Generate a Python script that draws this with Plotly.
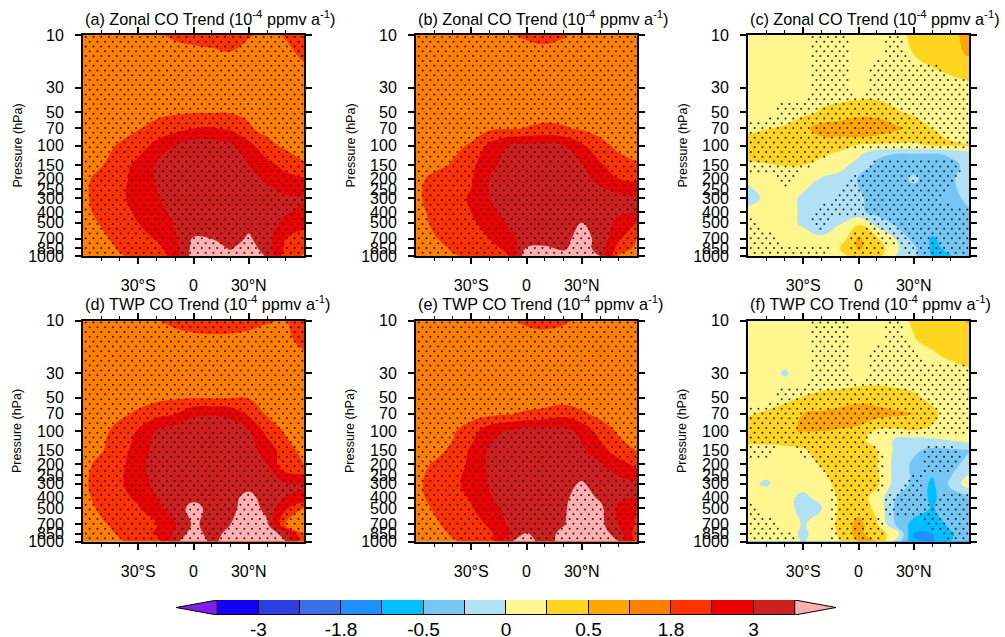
import numpy as np
import plotly.graph_objects as go

LAT = [-60,-50,-40,-30,-20,-10,0,10,20,30,40,50,60]
P = [10,15,20,30,50,70,100,150,200,300,400,500,700,850,1000]
P_R = [10,15,20,30,50,70,100,120,150,200,300,400,500,700,850,1000]
PTICKS = [10,30,50,70,100,150,200,250,300,400,500,700,850,1000]
LEVELS = [-3.6,-3,-2.4,-1.8,-1,-0.5,-0.25,0,0.25,0.5,1,1.8,2.4,3,3.6]
COLORS = ["#7F20E8","#1400F5","#2C3FE0","#3A70E8","#1E90FF","#00BFFF","#75C6F3","#B2E0F5",
          "#FFF68F","#FFD520","#FFA500","#FF7F00","#FF3300","#EE0000","#CD1F1F","#FFB0B0"]
CB_LABELS = ["-3","-1.8","-0.5","0","0.5","1.8","3"]

A = [
[1.3,1.3,1.4,1.5,1.7,1.9,2.0,2.1,2.2,1.85,1.6,1.85,2.2],
[1.3,1.3,1.3,1.4,1.5,1.5,1.55,1.6,1.7,1.5,1.45,1.6,1.9],
[1.3,1.3,1.3,1.35,1.4,1.4,1.45,1.45,1.45,1.4,1.4,1.5,1.7],
[1.3,1.3,1.3,1.3,1.3,1.3,1.3,1.3,1.3,1.3,1.3,1.35,1.4],
[1.3,1.35,1.4,1.5,1.6,1.7,1.75,1.75,1.75,1.7,1.55,1.45,1.35],
[1.4,1.45,1.55,1.75,2.0,2.2,2.4,2.45,2.3,1.85,1.6,1.5,1.4],
[1.45,1.6,1.85,2.1,2.6,3.0,3.3,3.3,3.1,2.6,1.95,1.65,1.5],
[1.5,1.75,2.1,2.6,3.05,3.3,3.4,3.4,3.3,3.0,2.6,2.2,1.85],
[1.6,2.0,2.2,2.65,3.05,3.3,3.4,3.4,3.4,3.2,2.9,2.6,2.45],
[1.6,2.1,2.3,2.6,2.95,3.25,3.4,3.4,3.4,3.4,3.3,3.1,3.05],
[1.55,2.0,2.2,2.5,2.8,3.15,3.35,3.3,3.3,3.4,3.3,3.05,2.9],
[1.5,1.85,2.1,2.4,2.65,3.05,3.35,3.3,3.1,3.4,3.2,2.9,2.6],
[1.45,1.65,1.95,2.15,2.45,2.9,3.65,3.6,3.3,3.7,3.2,2.4,2.1],
[1.4,1.55,1.85,2.0,2.2,2.8,3.8,3.85,3.55,3.9,3.3,2.3,1.85],
[1.3,1.5,1.75,1.9,2.1,2.6,3.9,3.9,3.8,3.9,3.55,2.0,1.75],
]
B = [
[1.3,1.3,1.3,1.35,1.45,1.7,1.9,2.0,1.85,1.6,1.5,1.5,1.5],
[1.3,1.3,1.3,1.3,1.35,1.4,1.45,1.5,1.45,1.4,1.4,1.4,1.4],
[1.3,1.3,1.3,1.3,1.3,1.35,1.35,1.4,1.4,1.35,1.35,1.35,1.35],
[1.3,1.3,1.3,1.3,1.3,1.3,1.3,1.3,1.3,1.3,1.3,1.3,1.3],
[1.3,1.3,1.3,1.35,1.4,1.45,1.5,1.55,1.55,1.5,1.4,1.35,1.3],
[1.4,1.4,1.45,1.55,1.65,1.72,1.82,1.9,1.85,1.7,1.55,1.45,1.4],
[1.45,1.5,1.65,1.85,2.55,3.0,3.1,3.15,3.0,2.5,1.95,1.65,1.5],
[1.5,1.6,1.85,2.25,2.85,3.2,3.4,3.4,3.3,3.05,2.5,2.0,1.85],
[1.6,1.95,2.0,2.35,3.0,3.25,3.4,3.4,3.35,3.2,2.8,2.4,2.3],
[1.6,2.1,2.25,2.45,3.0,3.25,3.4,3.4,3.4,3.4,3.35,3.2,3.1],
[1.55,1.95,2.15,2.4,2.85,3.2,3.35,3.35,3.35,3.35,3.3,3.1,3.0],
[1.5,1.9,2.1,2.3,2.65,3.05,3.3,3.35,3.4,3.6,3.3,2.85,2.35],
[1.45,1.75,1.95,2.15,2.4,2.85,3.2,3.3,3.4,3.85,3.4,2.5,1.75],
[1.4,1.6,1.85,2.0,2.2,2.55,3.65,3.7,3.5,3.95,3.3,2.2,1.6],
[1.35,1.5,1.75,1.85,2.0,2.35,4.0,3.9,3.85,4.1,3.6,1.7,1.5],
]
C = [
[.12,.12,.12,.12,.12,.12,.12,.12,.2,.28,.32,.45,.62],
[.12,.12,.12,.12,.12,.12,.12,.12,.18,.25,.35,.42,.55],
[.12,.12,.12,.12,.12,.12,.12,.12,.15,.18,.24,.3,.35],
[.12,.12,.12,.12,.12,.12,.12,.12,.12,.12,.14,.16,.2],
[.1,.12,.14,.18,.28,.33,.38,.38,.28,.2,.15,.12,.12],
[.2,.24,.28,.44,.7,.8,1.05,.9,.62,.4,.25,.2,.15],
[.35,.38,.4,.42,.38,.33,.23,.2,.2,.22,.26,.27,.26],
[.3,.32,.34,.34,.28,.2,.05,-.2,-.26,-.28,-.28,-.22,-.1],
[.22,.24,.26,.25,.18,.1,-.1,-.3,-.35,-.35,-.33,-.3,-.2],
[.05,.12,.12,.12,-.02,-.1,-.27,-.35,-.38,-.2,-.38,-.3,-.1],
[-.1,.05,.12,-.05,-.1,-.12,-.22,-.32,-.38,-.4,-.4,-.32,-.2],
[.08,.1,.12,-.05,-.12,-.12,-.2,-.33,-.4,-.4,-.4,-.35,-.28],
[.12,.12,.12,-.05,-.1,-.02,.2,-.1,-.3,-.38,-.38,-.38,-.38],
[.12,.12,.12,.12,.03,.1,.6,.28,0.0,-.33,-.55,-.4,-.4],
[.12,.12,.12,.12,.12,.25,.55,.4,.05,-.2,-.6,-.45,-.4],
[.12,.12,.12,.12,.12,.15,.4,.35,.0,-.2,-.55,-.52,-.4],
]
D = [
[1.3,1.3,1.35,1.5,1.75,1.95,2.1,2.15,2.1,2.0,1.85,1.8,2.3],
[1.2,1.3,1.3,1.4,1.45,1.5,1.55,1.6,1.6,1.55,1.5,1.6,2.0],
[1.2,1.3,1.3,1.3,1.35,1.35,1.4,1.4,1.4,1.4,1.4,1.45,1.72],
[1.2,1.3,1.3,1.3,1.3,1.3,1.3,1.3,1.3,1.3,1.3,1.3,1.35],
[1.25,1.35,1.4,1.5,1.6,1.7,1.75,1.75,1.75,1.75,1.6,1.5,1.4],
[1.35,1.5,1.65,1.9,2.2,2.4,2.9,2.95,2.85,2.3,1.7,1.5,1.4],
[1.4,1.6,2.0,2.45,3.05,3.3,3.4,3.4,3.35,3.05,2.2,1.7,1.5],
[1.45,1.75,2.1,2.7,3.2,3.4,3.4,3.4,3.35,3.2,2.8,2.0,1.6],
[1.6,1.95,2.2,2.85,3.2,3.4,3.4,3.4,3.4,3.3,3.0,1.95,1.75],
[1.6,2.15,2.3,2.75,3.15,3.4,3.4,3.4,3.4,3.35,3.2,3.05,3.05],
[1.55,2.05,2.25,2.5,3.0,3.3,3.4,3.4,3.4,3.8,3.3,3.0,2.9],
[1.5,1.9,2.1,2.35,2.85,3.25,3.85,3.35,3.4,3.95,3.4,2.5,1.75],
[1.45,1.7,1.95,2.1,2.4,2.95,3.7,3.4,3.6,4.1,3.7,1.75,1.6],
[1.4,1.6,1.85,2.05,2.5,3.1,3.95,3.3,3.85,4.1,3.9,3.4,1.75],
[1.35,1.55,1.75,1.95,2.1,3.45,4.1,3.45,3.9,4.1,4.0,3.65,1.95],
]
E = [
[1.3,1.3,1.3,1.35,1.4,1.65,1.95,2.05,1.9,1.6,1.5,1.4,1.4],
[1.2,1.2,1.25,1.3,1.3,1.3,1.35,1.4,1.4,1.35,1.3,1.3,1.3],
[1.2,1.2,1.2,1.25,1.25,1.25,1.3,1.3,1.3,1.3,1.25,1.25,1.25],
[1.2,1.2,1.2,1.2,1.2,1.2,1.2,1.2,1.2,1.2,1.2,1.2,1.2],
[1.1,1.15,1.2,1.25,1.3,1.35,1.3,1.35,1.4,1.4,1.3,1.25,1.2],
[1.25,1.3,1.4,1.5,1.6,1.75,1.9,2.0,2.2,1.9,1.6,1.45,1.3],
[1.35,1.45,1.7,2.1,2.8,3.05,3.25,3.3,3.2,2.85,2.1,1.7,1.5],
[1.4,1.6,1.9,2.5,3.1,3.3,3.4,3.4,3.3,3.1,2.7,2.0,1.75],
[1.6,1.85,2.05,2.55,3.1,3.35,3.4,3.4,3.4,3.3,3.05,2.7,2.2],
[1.6,2.05,2.25,2.6,3.05,3.35,3.45,3.45,3.45,3.65,3.4,3.2,3.1],
[1.55,2.0,2.2,2.45,2.95,3.3,3.4,3.4,3.45,3.9,3.5,3.1,3.0],
[1.5,1.85,2.1,2.35,2.8,3.2,3.4,3.4,3.5,4.0,3.75,2.9,2.4],
[1.45,1.7,1.95,2.1,2.5,3.05,3.3,3.35,3.55,4.1,3.8,3.0,2.3],
[1.4,1.6,1.85,2.0,2.3,2.9,3.65,3.3,3.8,4.1,3.95,3.3,2.1],
[1.35,1.55,1.75,1.9,2.1,3.5,3.9,3.3,3.85,4.1,4.0,3.65,2.2],
]
F = [
[.12,.12,.12,.12,.12,.12,.12,.12,.2,.27,.33,.42,.55],
[.12,.12,.12,.12,.12,.12,.12,.12,.16,.24,.3,.35,.42],
[.12,.12,.12,.12,.12,.12,.12,.12,.14,.18,.23,.3,.36],
[.12,.12,-.03,.12,.12,.12,.12,.12,.12,.12,.14,.16,.2],
[.13,.15,.2,.26,.3,.32,.36,.38,.34,.29,.2,.12,.12],
[.23,.28,.34,.5,.6,.75,1.0,.72,.6,.5,.3,.15,.12],
[.35,.38,.48,.52,.5,.48,.38,.22,.2,.24,.22,.12,.1],
[.32,.33,.35,.33,.36,.38,.35,.1,-.02,-.08,-.05,.02,.08],
[.15,.15,.17,.23,.32,.36,.35,.26,-.05,-.2,-.32,-.3,-.27],
[.12,.12,.12,.17,.27,.36,.36,.27,-.08,-.3,-.4,-.35,-.15],
[.05,-.03,.12,.12,.16,.33,.36,.3,-.1,-.3,-.6,-.2,.15],
[.12,.12,.1,-.08,.12,.28,.36,.16,-.25,-.35,-.6,-.35,-.3],
[.12,.12,.12,-.1,-.02,.3,.38,.2,-.28,-.35,-.55,-.35,-.35],
[.12,.12,.12,-.02,.1,.3,.7,.27,-.25,-.7,-.75,-.45,-.35],
[.12,.12,.12,-.05,.12,.28,.7,.3,.2,-1.1,-1.0,-.55,-.4],
[.12,.12,.12,-.02,.12,.25,.55,.5,-.05,-.9,-1.1,-.5,-.35],
]
SIG_C = [
[0,0,0,0,1,1,0,0,1,0,0,0,0],
[0,0,0,0,1,1,0,0,1,0,0,0,0],
[0,0,0,0,1,1,0,1,1,1,1,0,0],
[0,0,0,0,1,1,0,1,1,1,1,1,1],
[0,0,1,1,1,1,1,1,1,1,1,1,1],
[1,1,1,1,1,1,1,1,1,1,1,1,1],
[1,1,1,1,1,1,1,1,1,1,1,1,1],
[1,1,1,1,1,0,0,0,0,0,0,0,0],
[1,1,1,1,0,0,0,1,1,1,1,1,0],
[0,0,1,0,0,0,1,1,1,1,1,1,0],
[0,0,0,0,0,1,1,1,1,1,1,0,0],
[0,0,0,0,1,1,1,1,1,1,1,1,1],
[1,0,0,0,1,0,0,1,1,1,1,1,1],
[1,1,0,0,0,0,1,1,1,1,1,1,1],
[1,1,1,1,1,0,1,1,0,1,1,1,1],
[1,1,1,1,1,0,1,1,0,1,1,1,1],
]
SIG_F = [
[0,0,0,0,1,1,0,0,1,0,0,0,0],
[0,0,0,0,1,1,0,0,1,0,0,0,0],
[0,0,0,0,1,1,0,1,1,1,0,0,0],
[0,0,0,0,1,1,0,1,1,1,1,1,1],
[0,0,1,1,1,1,1,1,1,1,1,1,1],
[1,1,1,1,1,1,1,1,1,1,1,1,1],
[1,1,1,1,1,1,1,1,1,1,1,1,1],
[1,1,1,1,1,1,1,0,0,0,0,0,0],
[1,1,0,1,1,1,1,1,0,0,1,1,0],
[0,0,0,0,1,1,1,1,0,0,1,1,0],
[0,0,0,0,0,1,1,1,0,1,0,0,0],
[0,0,0,0,0,1,1,0,1,1,0,1,1],
[1,0,0,0,0,1,1,0,1,1,1,1,1],
[1,1,0,0,0,1,1,1,0,0,1,1,1],
[1,1,1,0,0,1,1,1,0,0,0,1,1],
[1,1,1,0,0,1,1,1,0,0,0,1,1],
]

PANELS = [
    ("(a) Zonal CO Trend", P, A, None),
    ("(b) Zonal CO Trend", P, B, None),
    ("(c) Zonal CO Trend", P_R, C, SIG_C),
    ("(d) TWP CO Trend", P, D, None),
    ("(e) TWP CO Trend", P, E, None),
    ("(f) TWP CO Trend", P_R, F, SIG_F),
]

W, H = 1005, 637
COL_X = [83, 416, 748]
ROW_Y = [35, 320.5]
PW, PH = 221, 221
FONT = "Liberation Sans"

# level-index space makes the uneven contour levels even for Plotly
ext_levels = [-4.2] + LEVELS + [4.2]
ext_index = [-1] + list(range(len(LEVELS))) + [15]
def to_index(v):
    return np.interp(np.asarray(v, float), ext_levels, ext_index)

def stipple(sig, plev):
    lats, logs = [], []
    step_x, step_y = 4.2, 0.0434
    row = 0
    ly = 1.0 + step_y * 0.4
    while ly < 3.0:
        off = (row % 2) * step_x / 2
        xs = np.arange(-58.5 + off, 60, step_x)
        lats.extend(xs.tolist())
        logs.extend([ly] * len(xs))
        row += 1
        ly += step_y
    lats, logs = np.array(lats), np.array(logs)
    if sig is None:
        keep = np.ones(len(lats), bool)
    else:
        s = np.array(sig, float)
        lp = np.log10(plev)
        by_col = np.array([np.interp(logs, lp, s[:, j]) for j in range(s.shape[1])])
        val = np.array([np.interp(lats[i], LAT, by_col[:, i]) for i in range(len(lats))])
        keep = val >= 0.5
    return lats[keep], 10 ** logs[keep]

cscale = [[k / 15, c] for k, c in enumerate(COLORS)]
fig = go.Figure()
annotations = []
layout = {}
for i, (title, plev, vals, sig) in enumerate(PANELS):
    r, c = divmod(i, 3)
    n = i + 1
    xname = "x" if n == 1 else f"x{n}"
    yname = "y" if n == 1 else f"y{n}"
    x0, y0 = COL_X[c], ROW_Y[r]
    fig.add_trace(go.Contour(
        x=LAT, y=plev, z=to_index(vals), xaxis=xname, yaxis=yname,
        autocontour=False, contours=dict(start=0, end=14, size=1, coloring="fill", showlines=False),
        line=dict(width=0, smoothing=1.3), colorscale=cscale, showscale=False, hoverinfo="skip"))
    sx, sy = stipple(sig, plev)
    fig.add_trace(go.Scatter(x=sx, y=sy, mode="markers", xaxis=xname, yaxis=yname, showlegend=False,
                             marker=dict(size=2, color="rgba(0,0,0,0.85)"), hoverinfo="skip"))
    xkey = "xaxis" if n == 1 else f"xaxis{n}"
    ykey = "yaxis" if n == 1 else f"yaxis{n}"
    layout[xkey] = dict(domain=[x0 / W, (x0 + PW) / W], range=[-60, 60], anchor=yname, showgrid=False, zeroline=False,
        automargin=False,
        tickmode="array", tickvals=[-30, 0, 30], ticktext=["30°S", "0", "30°N"], ticks="outside", ticklen=6, tickwidth=1.5,
        mirror="ticks", showline=True, linecolor="black", linewidth=2, ticklabelstandoff=8,
        minor=dict(tickmode="array", tickvals=[-50, -40, -20, -10, 10, 20, 40, 50], ticks="outside", ticklen=3, tickwidth=1, tickcolor="black", showgrid=False),
        tickfont=dict(family=FONT, size=16, color="black"), tickcolor="black")
    layout[ykey] = dict(domain=[1 - (y0 + PH) / H, 1 - y0 / H], type="log", range=[3, 1], anchor=xname, showgrid=False, zeroline=False,
        automargin=False,
        tickmode="array", tickvals=PTICKS, ticktext=[str(p) for p in PTICKS], ticks="outside", ticklen=6, tickwidth=1.5,
        mirror="ticks", showline=True, linecolor="black", linewidth=2, ticklabelstandoff=8,
        tickfont=dict(family=FONT, size=16, color="black"), tickcolor="black")
    annotations.append(dict(xref="paper", yref="paper", x=x0 / W, y=1 - (y0 - 17.5) / H, xanchor="left", yanchor="middle",
        showarrow=False, align="left", font=dict(family=FONT, size=16.2, color="black"),
        text=title + " (10<sup>-4</sup> ppmv a<sup>-1</sup>)"))
    annotations.append(dict(xref="paper", yref="paper", x=(x0 - 66) / W, y=1 - (y0 + PH / 2) / H, xanchor="center", yanchor="middle",
        showarrow=False, textangle=-90, font=dict(family=FONT, size=12.5, color="black"), text="Pressure (hPa)"))

# colour bar drawn as its own small axes
cb_idx = list(range(len(LEVELS) - 1))
fig.add_trace(go.Bar(x=[k + 0.5 for k in cb_idx], y=[1] * len(cb_idx), width=[1] * len(cb_idx), xaxis="x7", yaxis="y7",
                     marker=dict(color=COLORS[1:-1], line=dict(color="black", width=1)), showlegend=False, hoverinfo="skip"))
fig.add_trace(go.Scatter(x=[-1, 0, 0, -1], y=[0.5, 1, 0, 0.5], xaxis="x7", yaxis="y7", mode="lines", fill="toself",
                         fillcolor=COLORS[0], line=dict(color="black", width=1), showlegend=False, hoverinfo="skip"))
fig.add_trace(go.Scatter(x=[15, 14, 14, 15], y=[0.5, 1, 0, 0.5], xaxis="x7", yaxis="y7", mode="lines", fill="toself",
                         fillcolor=COLORS[-1], line=dict(color="black", width=1), showlegend=False, hoverinfo="skip"))
layout["xaxis7"] = dict(domain=[176 / W, 836 / W], range=[-1, 15], anchor="y7", showgrid=False, zeroline=False, showline=False,
    automargin=False, tickmode="array", tickvals=[1, 3, 5, 7, 9, 11, 13], ticktext=CB_LABELS, ticks="", ticklabelstandoff=1,
    tickfont=dict(family=FONT, size=19, color="black"))
layout["yaxis7"] = dict(domain=[1 - 615 / H, 1 - 600 / H], range=[0, 1], anchor="x7", visible=False, automargin=False)

fig.update_layout(width=W, height=H, margin=dict(l=0, r=0, t=0, b=0, pad=0, autoexpand=False), paper_bgcolor="white", plot_bgcolor="white",
                  showlegend=False, annotations=annotations, bargap=0, **layout)
fig.write_html("out.html", config={"displayModeBar": False},
               post_script="document.body.style.margin='0';document.documentElement.style.overflow='hidden';")
